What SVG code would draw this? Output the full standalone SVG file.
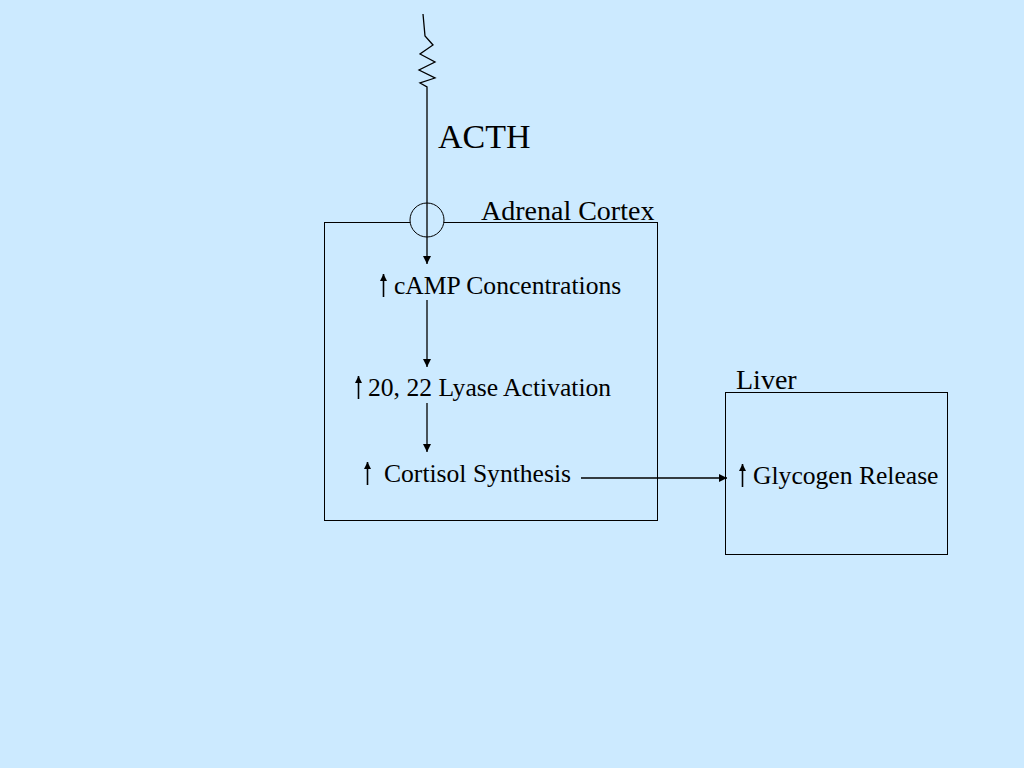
<svg xmlns="http://www.w3.org/2000/svg" width="1024" height="768" viewBox="0 0 1024 768">
<defs>
<style>
.t{font-family:"Liberation Serif","Times New Roman",serif;fill:#000}
.lb{font-size:25.6px}
.hd{font-size:28px}
.box{fill:none;stroke:#000;stroke-width:1}
.ln{fill:none;stroke:#000;stroke-width:1.3}
.up{fill:none;stroke:#000;stroke-width:1.6}
</style>
<marker id="ah" viewBox="0 0 10 10" refX="10" refY="5" markerWidth="8" markerHeight="8" markerUnits="userSpaceOnUse" orient="auto"><path d="M0,0 L10,5 L0,10 z" fill="#000"/></marker>
<marker id="uh" viewBox="0 0 10 10" refX="10" refY="5" markerWidth="7" markerHeight="7" markerUnits="userSpaceOnUse" orient="auto"><path d="M0,0 L10,5 L0,10 z" fill="#000"/></marker>
</defs>
<rect width="1024" height="768" fill="#cceaff"/>
<g id="adrenal">
<rect class="box" x="324.5" y="222.5" width="333" height="298"/>
<text class="t hd" x="481" y="220">Adrenal Cortex</text>
</g>
<g id="liver">
<rect class="box" x="725.5" y="392.5" width="222" height="162"/>
<text class="t hd" x="736" y="389">Liver</text>
</g>
<g id="acth">
<text class="t" x="438" y="148" font-size="34">ACTH</text>
</g>
<g id="receptor">
<circle cx="427" cy="220" r="17" fill="#cceaff" stroke="#000" stroke-width="1"/>
</g>
<g id="camp">
<line class="up" x1="383.5" y1="297" x2="383.5" y2="274" marker-end="url(#uh)"/>
<text class="t lb" x="394" y="294">cAMP Concentrations</text>
</g>
<g id="lyase">
<line class="up" x1="358.5" y1="399" x2="358.5" y2="376" marker-end="url(#uh)"/>
<text class="t lb" x="368" y="396">20, 22 Lyase Activation</text>
</g>
<g id="cortisol">
<line class="up" x1="367.5" y1="485" x2="367.5" y2="462" marker-end="url(#uh)"/>
<text class="t lb" x="384" y="482">Cortisol Synthesis</text>
</g>
<g id="glycogen">
<line class="up" x1="742.5" y1="487" x2="742.5" y2="464" marker-end="url(#uh)"/>
<text class="t lb" x="753" y="484">Glycogen Release</text>
</g>
<g id="connectors">
<path class="ln" d="M423,14 L425,36 L433,45 L420,54 L435,62 L419,70 L435,78 L420,83 L427,87 L427,264" marker-end="url(#ah)"/>
<line class="ln" x1="427" y1="300" x2="427" y2="367" marker-end="url(#ah)"/>
<line class="ln" x1="427" y1="403" x2="427" y2="452" marker-end="url(#ah)"/>
<line class="ln" x1="581" y1="478" x2="727" y2="478" marker-end="url(#ah)"/>
</g>
</svg>
